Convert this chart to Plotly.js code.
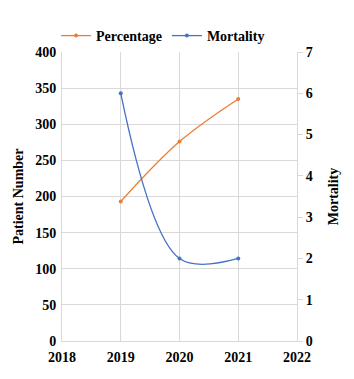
<!DOCTYPE html>
<html><head><meta charset="utf-8">
<script src="https://cdn.plot.ly/plotly-3.0.1.min.js"></script>
<style>html,body{margin:0;padding:0;background:#fff}</style>
</head><body><div id="chart" style="width:354px;height:379px"></div>
<script>
var years = [2019, 2020, 2021];
var percentage = [193, 276, 335];
var mortality = [6, 2, 2];

var fontFam = 'Liberation Serif, Times New Roman, serif';
var f14 = {family: fontFam, size: 14, color: '#000', weight: 'bold'};
var traces = [
  {x: years, y: percentage, name: 'Percentage', type: 'scatter', mode: 'lines+markers',
   line: {color: '#ED7D31', width: 1.3, shape: 'spline'}, marker: {color: '#ED7D31', size: 4}, yaxis: 'y'},
  {x: years, y: mortality, name: 'Mortality', type: 'scatter', mode: 'lines+markers',
   line: {color: '#4472C4', width: 1.3, shape: 'spline', smoothing: 1}, marker: {color: '#4472C4', size: 4}, yaxis: 'y2'}
];
var layout = {
  width: 354, height: 379,
  margin: {l: 62, r: 57, t: 52, b: 38},
  paper_bgcolor: '#fff', plot_bgcolor: '#fff',
  font: f14,
  showlegend: true,
  legend: {orientation: 'h', x: 0.43, xanchor: 'center', y: 1.0, yanchor: 'bottom',
    font: f14, itemwidth: 30},
  xaxis: {range: [2018, 2022], dtick: 1, tick0: 2018, showgrid: true, gridcolor: '#d9d9d9',
    showline: true, linecolor: '#d9d9d9', zeroline: false, ticks: '', ticklabelstandoff: 3,
    tickfont: f14},
  yaxis: {range: [0, 400], dtick: 50, showgrid: true, gridcolor: '#d9d9d9',
    showline: true, linecolor: '#d9d9d9', zeroline: false, ticks: '', ticklabelstandoff: 2,
    tickfont: f14,
    title: {text: 'Patient Number', font: f14, standoff: 8}},
  yaxis2: {range: [0, 7], dtick: 1, overlaying: 'y', side: 'right', showgrid: false,
    showline: true, linecolor: '#d9d9d9', zeroline: false, ticks: 'outside', ticklen: 5, tickcolor: '#d9d9d9',
    tickfont: f14,
    title: {text: 'Mortality', font: f14, standoff: 16}}
};
Plotly.newPlot('chart', traces, layout, {displayModeBar: false, staticPlot: true});
</script></body></html>
